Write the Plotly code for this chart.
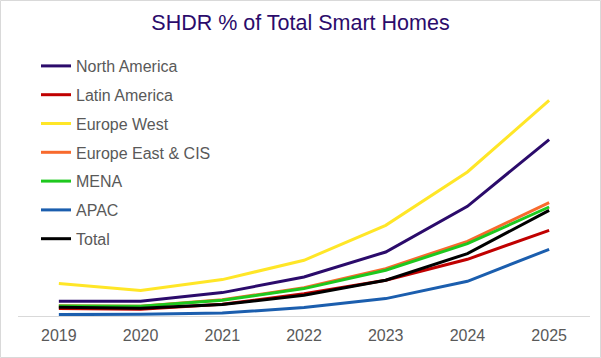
import plotly.graph_objects as go

years = [2019, 2020, 2021, 2022, 2023, 2024, 2025]
north_america = [1.47, 1.47, 2.34, 3.90, 6.40, 10.97, 17.64]
latin_america = [0.74, 0.67, 1.17, 2.22, 3.57, 5.67, 8.57]
europe_west = [3.24, 2.54, 3.64, 5.57, 9.07, 14.40, 21.57]
europe_east_cis = [1.02, 0.97, 1.62, 2.82, 4.74, 7.47, 11.34]
mena = [1.00, 0.97, 1.57, 2.74, 4.57, 7.24, 10.90]
apac = [0.14, 0.17, 0.30, 0.84, 1.74, 3.47, 6.67]
total = [0.87, 0.77, 1.14, 2.07, 3.57, 6.24, 10.57]

series = [
    ("North America", north_america, "#2B0B6B"),
    ("Latin America", latin_america, "#C00000"),
    ("Europe West", europe_west, "#FFE627"),
    ("Europe East & CIS", europe_east_cis, "#F86A2D"),
    ("MENA", mena, "#1EC81E"),
    ("APAC", apac, "#1B5EAE"),
    ("Total", total, "#000000"),
]

fig = go.Figure()
for i, (name, vals, color) in enumerate(series):
    fig.add_trace(go.Scatter(
        x=years, y=vals, name=name, mode="lines",
        line=dict(color=color, width=3),
        legendgroup="g%d" % i,
    ))

W, H = 601, 358
ml, mr, mt, mb = 18, 11, 50, 42
pw = W - ml - mr
ph = H - mt - mb

fig.update_layout(
    width=W, height=H,
    margin=dict(l=ml, r=mr, t=mt, b=mb),
    paper_bgcolor="white", plot_bgcolor="white",
    font=dict(family="Liberation Sans, Arial, sans-serif", color="#595959"),
    title=dict(text="SHDR % of Total Smart Homes", x=0.5, xanchor="center",
               y=1 - 22 / H, yanchor="middle",
               font=dict(size=21.5, color="#2B0B6B")),
    xaxis=dict(range=[2018.5, 2025.5], tickmode="array", tickvals=years,
               ticktext=[str(y) for y in years], showgrid=False, zeroline=False,
               showline=True, linecolor="#D9D9D9", linewidth=1, ticks="",
               tickfont=dict(size=16, color="#595959"), ticklabelstandoff=5),
    yaxis=dict(range=[0, ph / 10.0], visible=False, showgrid=False, zeroline=False),
    legend=dict(x=(36 - ml) / pw, y=1 - (49 - mt) / ph, xanchor="left", yanchor="top",
                font=dict(size=16, color="#595959"), tracegroupgap=5,
                bgcolor="rgba(0,0,0,0)", maxheight=1),
    showlegend=True,
    shapes=[dict(type="rect", xref="paper", yref="paper",
                 x0=-(ml - 0.5) / pw, x1=1 + (mr - 0.5) / pw,
                 y0=-(mb - 0.5) / ph, y1=1 + (mt - 0.5) / ph,
                 line=dict(color="#D9D9D9", width=1), layer="below")],
)

fig.write_html("out.html", config={"displayModeBar": False},
               post_script="document.body.style.margin='0px';")
